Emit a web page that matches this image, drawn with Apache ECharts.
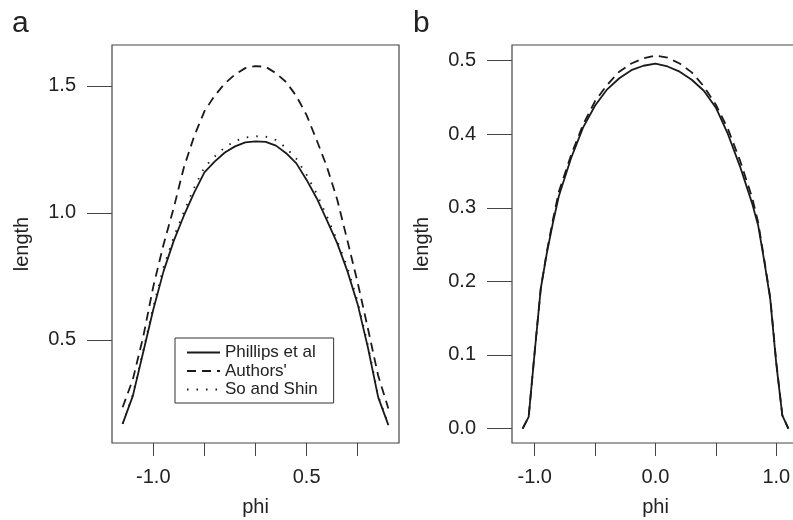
<!DOCTYPE html>
<html>
<head>
<meta charset="utf-8">
<script src="https://cdn.jsdelivr.net/npm/echarts@6/dist/echarts.min.js"></script>
<style>
  html, body { margin: 0; padding: 0; background: #fff; }
  #chart { width: 793px; height: 520px; }
</style>
</head>
<body>
<div id="chart"></div>
<script>
  // panel a
  const phiA = [-1.3, -1.2, -1.1, -1.0, -0.9, -0.8, -0.7, -0.6, -0.5, -0.4, -0.3, -0.2, -0.1, 0.0,
    0.1, 0.2, 0.3, 0.4, 0.5, 0.6, 0.7, 0.8, 0.9, 1.0, 1.1, 1.2, 1.3]
  const phillipsA = [0.17, 0.28, 0.45, 0.62, 0.77, 0.89, 0.99, 1.08, 1.16, 1.202, 1.238, 1.262, 1.278, 1.282,
    1.28, 1.265, 1.235, 1.195, 1.13, 1.057, 0.97, 0.88, 0.77, 0.64, 0.47, 0.275, 0.165]
  const authorsA = [0.235, 0.345, 0.51, 0.71, 0.875, 1.02, 1.18, 1.302, 1.40, 1.461, 1.51, 1.545, 1.57, 1.578,
    1.575, 1.55, 1.515, 1.46, 1.385, 1.285, 1.18, 1.052, 0.89, 0.725, 0.545, 0.36, 0.23]
  const soShinA = [0.17, 0.285, 0.455, 0.63, 0.785, 0.905, 1.005, 1.10, 1.18, 1.222, 1.258, 1.283, 1.297, 1.302,
    1.30, 1.287, 1.256, 1.213, 1.15, 1.075, 0.985, 0.89, 0.785, 0.65, 0.48, 0.28, 0.168]

  // panel b
  const phiB = [-1.1, -1.05, -1.0, -0.95, -0.9, -0.85, -0.8, -0.7, -0.6, -0.5, -0.4, -0.3, -0.2, -0.1, 0.0,
    0.1, 0.2, 0.3, 0.4, 0.5, 0.6, 0.7, 0.8, 0.85, 0.9, 0.95, 1.0, 1.05, 1.1]
  const phillipsB = [0.0, 0.016, 0.104, 0.19, 0.238, 0.279, 0.316, 0.367, 0.409, 0.439, 0.461, 0.476, 0.487, 0.493, 0.496,
    0.492, 0.485, 0.474, 0.459, 0.436, 0.400, 0.356, 0.306, 0.276, 0.228, 0.176, 0.088, 0.018, 0.0]
  const authorsB = [0.0, 0.016, 0.105, 0.19, 0.24, 0.283, 0.322, 0.371, 0.413, 0.445, 0.467, 0.485, 0.496, 0.503, 0.507,
    0.504, 0.496, 0.484, 0.465, 0.44, 0.407, 0.364, 0.314, 0.28, 0.23, 0.178, 0.09, 0.018, 0.0]

  const xTicks = [-1.0, -0.5, 0.0, 0.5, 1.0]
  const xLabelsA = [-1.0, 0.5]
  const xLabelsB = [-1.0, 0.0, 1.0]
  const yTicksA = [0.5, 1.0, 1.5]
  const yTicksB = [0.0, 0.1, 0.2, 0.3, 0.4, 0.5]

  const font = '"Liberation Sans", Arial, Helvetica, sans-serif'
  const ink = '#1a1a1a'
  const frame = '#444'

  function xAxisOf(gridIndex, min, max, labels) {
    return {
      type: 'value',
      gridIndex: gridIndex,
      min: min,
      max: max,
      name: 'phi',
      nameLocation: 'middle',
      nameGap: 54,
      nameTextStyle: {fontSize: 20, color: '#222', fontFamily: font},
      axisLine: {show: false, onZero: false},
      splitLine: {show: false},
      axisTick: {show: true, length: 13, customValues: xTicks, lineStyle: {color: frame, width: 1}},
      axisLabel: {
        customValues: labels,
        margin: 24,
        fontSize: 20,
        color: '#222',
        fontFamily: font,
        formatter: v => v.toFixed(1)
      }
    }
  }

  function yAxisOf(gridIndex, min, max, ticks) {
    return {
      type: 'value',
      gridIndex: gridIndex,
      min: min,
      max: max,
      name: 'length',
      nameLocation: 'middle',
      nameGap: 80,
      nameTextStyle: {fontSize: 20, color: '#222', fontFamily: font},
      axisLine: {show: false, onZero: false},
      splitLine: {show: false},
      axisTick: {show: true, length: 25, customValues: ticks, lineStyle: {color: frame, width: 1}},
      axisLabel: {
        customValues: ticks,
        margin: 36,
        fontSize: 20,
        color: '#222',
        fontFamily: font,
        formatter: v => v.toFixed(1)
      }
    }
  }

  function lineOf(name, xs, ys, idx, dash) {
    return {
      name: name,
      type: 'line',
      xAxisIndex: idx,
      yAxisIndex: idx,
      symbol: 'none',
      smooth: false,
      data: ys.map((y, i) => [xs[i], y]),
      lineStyle: {color: ink, width: 1.8, type: dash},
      itemStyle: {color: ink}
    }
  }

  function loadChart() {
    const chart = echarts.init(document.getElementById('chart'))
    const option = {
      animation: false,
      backgroundColor: '#fff',
      title: [
        {text: 'a', left: 7, top: 4, textStyle: {fontSize: 30, fontWeight: 'normal', color: '#222', fontFamily: font}},
        {text: 'b', left: 408, top: 4, textStyle: {fontSize: 30, fontWeight: 'normal', color: '#222', fontFamily: font}}
      ],
      grid: [
        {left: 112, top: 45, width: 287, height: 398, outerBoundsMode: 'none', show: true, borderColor: frame, borderWidth: 1.2, backgroundColor: 'transparent'},
        {left: 512, top: 45, width: 287, height: 398, outerBoundsMode: 'none', show: true, borderColor: frame, borderWidth: 1.2, backgroundColor: 'transparent'}
      ],
      xAxis: [
        xAxisOf(0, -1.404, 1.404, xLabelsA),
        xAxisOf(1, -1.188, 1.188, xLabelsB)
      ],
      yAxis: [
        yAxisOf(0, 0.0945, 1.661, yTicksA),
        yAxisOf(1, -0.0196, 0.5212, yTicksB)
      ],
      legend: {
        data: ['Phillips et al', "Authors'", 'So and Shin'],
        orient: 'vertical',
        left: 175,
        top: 338,
        selectedMode: false,
        borderColor: '#333',
        borderWidth: 1,
        borderRadius: 0,
        padding: [6, 16, 5, 11],
        itemWidth: 33,
        itemHeight: 17,
        itemGap: 1.5,
        itemStyle: {opacity: 0},
        textStyle: {fontSize: 17, color: '#222', fontFamily: font}
      },
      series: [
        lineOf('Phillips et al', phiA, phillipsA, 0, 'solid'),
        lineOf("Authors'", phiA, authorsA, 0, [9, 6]),
        lineOf('So and Shin', phiA, soShinA, 0, [1.5, 8]),
        lineOf('Phillips et al', phiB, phillipsB, 1, 'solid'),
        lineOf("Authors'", phiB, authorsB, 1, [9, 6])
      ]
    }
    chart.setOption(option)
  }

  loadChart()
</script>
</body>
</html>
